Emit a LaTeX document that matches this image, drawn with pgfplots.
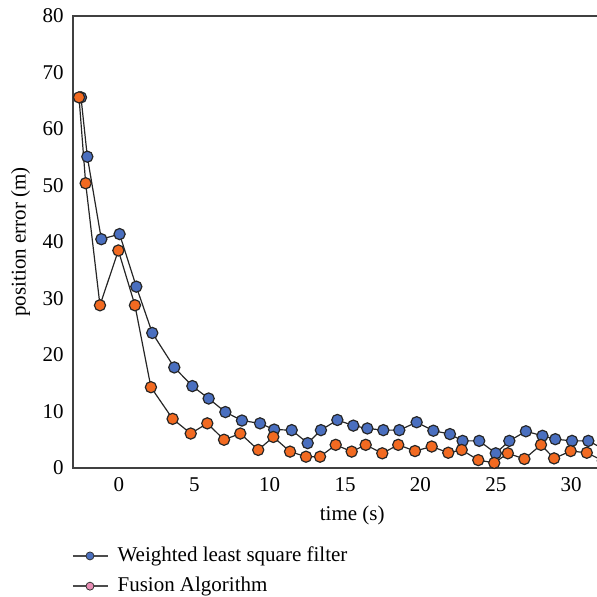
\documentclass[border=0pt]{standalone}
\usepackage{fontspec}
\setmainfont{Liberation Serif}
\usepackage{pgfplots}
\pgfplotsset{compat=1.18}
\definecolor{wblue}{HTML}{4A6FBF}
\definecolor{forange}{HTML}{F26A21}
\definecolor{fpink}{HTML}{E98DB5}
\begin{document}
\fontsize{10.5}{12.6}\selectfont
\begin{tikzpicture}
\clip (-36.5pt,-64.5pt) rectangle (262pt,234pt);
\begin{axis}[
  scale only axis,
  width=279.2pt, height=226pt,
  xmin=-3.05, xmax=34, ymin=0, ymax=80,
  xtick={0,5,...,30}, ytick={0,10,...,80},
  major tick length=0pt,
  axis line style={draw=black!75, line width=0.6pt},
  /pgf/number format/assume math mode=true,
  tick label style={font=\fontsize{10.5}{12.6}\selectfont},
  label style={font=\fontsize{10.5}{12.6}\selectfont},
  xticklabel style={yshift=-1pt},
  yticklabel style={xshift=-1pt},
  xlabel={time (s)}, ylabel={position error (m)},
  xlabel style={yshift=0pt},
  ylabel style={yshift=-1pt},
  legend style={at={(-0.002,-0.165)}, anchor=north west, draw=none, fill=none,
    font=\fontsize{10.5}{12.6}\selectfont, row sep=2.2pt, inner sep=0pt},
  legend cell align=left,
]
\addplot[black!85, line width=0.6pt, mark=*, mark size=2.8pt,
  mark options={fill=wblue, draw=black!85, line width=0.6pt},
  legend image code/.code={\draw[black!70, line width=0.7pt] (0pt,0pt) -- (17.5pt,0pt);
    \draw[fill=wblue, draw=black!80, line width=0.4pt] (8.5pt,0pt) circle (2pt);
    \path (20pt,0pt);}]
coordinates {
(-2.52,65.6) (-2.1,55.1) (-1.17,40.5) (0.04,41.4) (1.15,32.1) (2.21,23.9)
(3.67,17.8) (4.87,14.5) (5.95,12.3) (7.06,9.9) (8.16,8.4) (9.36,7.9)
(10.3,6.8) (11.46,6.7) (12.52,4.4) (13.4,6.7) (14.49,8.5) (15.55,7.5)
(16.48,7.0) (17.54,6.7) (18.6,6.7) (19.75,8.1) (20.86,6.6) (21.96,6.0)
(22.8,4.8) (23.9,4.8) (25.0,2.6) (25.9,4.8) (27.0,6.5) (28.1,5.7)
(28.95,5.1) (30.06,4.8) (31.14,4.8) (32.2,3.3)
};
\addlegendentry{Weighted least square filter}
\addplot[black!85, line width=0.6pt, mark=*, mark size=2.8pt,
  mark options={fill=forange, draw=black!85, line width=0.6pt},
  legend image code/.code={\draw[black!70, line width=0.7pt] (0pt,0pt) -- (17.5pt,0pt);
    \draw[fill=fpink, draw=black!80, line width=0.4pt] (8.5pt,0pt) circle (2pt);
    \path (20pt,0pt);}]
coordinates {
(-2.65,65.6) (-2.21,50.4) (-1.26,28.8) (-0.04,38.5) (1.06,28.8) (2.12,14.3)
(3.56,8.7) (4.76,6.1) (5.86,7.9) (6.97,5.0) (8.05,6.1) (9.24,3.2)
(10.24,5.5) (11.35,2.9) (12.41,2.0) (13.34,2.0) (14.38,4.1) (15.44,2.9)
(16.37,4.1) (17.47,2.6) (18.53,4.1) (19.64,3.0) (20.75,3.8) (21.85,2.7)
(22.74,3.2) (23.84,1.4) (24.9,0.9) (25.8,2.6) (26.9,1.6) (28.0,4.1)
(28.87,1.7) (29.97,3.0) (31.04,2.7) (32.1,1.3)
};
\addlegendentry{Fusion Algorithm}
\end{axis}
\end{tikzpicture}
\end{document}
